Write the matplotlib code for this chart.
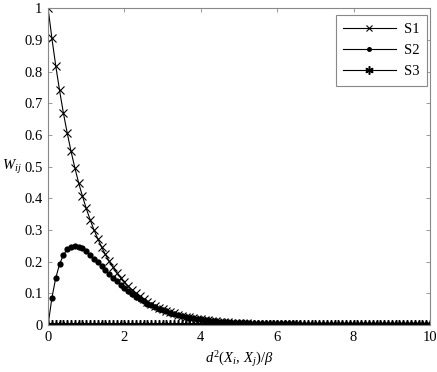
import numpy as np
import matplotlib
matplotlib.use("Agg")
import matplotlib.pyplot as plt

plt.rcParams['font.family'] = ['Liberation Serif', 'DejaVu Serif']
plt.rcParams['mathtext.fontset'] = 'custom'
plt.rcParams['mathtext.rm'] = 'Liberation Serif'
plt.rcParams['mathtext.it'] = 'Liberation Serif:italic'

# x positions: 0 to 10 step 0.1 (101 samples)
x_start, x_stop, n_points = 0.0, 10.0, 101

s1 = [1.000, 0.905, 0.819, 0.741, 0.670, 0.607, 0.549, 0.497, 0.449, 0.407,
      0.368, 0.333, 0.301, 0.273, 0.247, 0.223, 0.202, 0.183, 0.165, 0.150,
      0.135, 0.122, 0.111, 0.100, 0.091, 0.082, 0.074, 0.067, 0.061, 0.055,
      0.050, 0.045, 0.041, 0.037, 0.033, 0.030, 0.027, 0.025, 0.022, 0.020,
      0.018, 0.017, 0.015, 0.014, 0.012, 0.011, 0.010, 0.009, 0.008, 0.007,
      0.007, 0.006, 0.006, 0.005, 0.005, 0.004, 0.004, 0.003, 0.003, 0.003,
      0.002, 0.002, 0.002, 0.002, 0.002, 0.002, 0.001, 0.001, 0.001, 0.001,
      0.001, 0.001, 0.001, 0.001, 0.001, 0.001, 0.000, 0.000, 0.000, 0.000,
      0.000, 0.000, 0.000, 0.000, 0.000, 0.000, 0.000, 0.000, 0.000, 0.000,
      0.000, 0.000, 0.000, 0.000, 0.000, 0.000, 0.000, 0.000, 0.000, 0.000,
      0.000]

s2 = [0.000, 0.086, 0.148, 0.192, 0.221, 0.239, 0.248, 0.250, 0.247, 0.242,
      0.233, 0.222, 0.210, 0.199, 0.186, 0.173, 0.161, 0.150, 0.138, 0.128,
      0.117, 0.107, 0.099, 0.090, 0.083, 0.075, 0.068, 0.062, 0.057, 0.052,
      0.047, 0.043, 0.039, 0.035, 0.032, 0.029, 0.027, 0.024, 0.022, 0.020,
      0.018, 0.016, 0.015, 0.013, 0.012, 0.011, 0.010, 0.009, 0.008, 0.007,
      0.007, 0.006, 0.006, 0.005, 0.005, 0.004, 0.004, 0.003, 0.003, 0.003,
      0.002, 0.002, 0.002, 0.002, 0.002, 0.002, 0.001, 0.001, 0.001, 0.001,
      0.001, 0.001, 0.001, 0.001, 0.001, 0.001, 0.000, 0.000, 0.000, 0.000,
      0.000, 0.000, 0.000, 0.000, 0.000, 0.000, 0.000, 0.000, 0.000, 0.000,
      0.000, 0.000, 0.000, 0.000, 0.000, 0.000, 0.000, 0.000, 0.000, 0.000,
      0.000]

s3 = [0.0] * 101

series_labels = ['S1', 'S2', 'S3']
x_ticks = [0, 2, 4, 6, 8, 10]
y_ticks = [0, 0.1, 0.2, 0.3, 0.4, 0.5, 0.6, 0.7, 0.8, 0.9, 1]
y_tick_labels = ['0', '0.1', '0.2', '0.3', '0.4', '0.5', '0.6', '0.7', '0.8', '0.9', '1']

x = np.linspace(x_start, x_stop, n_points)

fig = plt.figure(figsize=(4.37, 3.72), dpi=100)
ax = fig.add_axes([0.110, 0.126, 0.874, 0.852])

ax.plot(x, s1, color='black', lw=0.8, marker='x', ms=5.5, mew=0.8, label=series_labels[0])
ax.plot(x, s2, color='black', lw=0.8, marker='o', ms=4.5, mew=0, label=series_labels[1])
ax.plot(x, s3, color='black', lw=0.8, marker=(6, 2, 0), ms=7.5, mew=1.1, label=series_labels[2])

ax.set_xlim(0, 10)
ax.set_ylim(0, 1)
ax.set_xticks(x_ticks)
ax.set_xticklabels([str(t) for t in x_ticks])
ax.set_yticks(y_ticks)
ax.set_yticklabels(y_tick_labels)
ax.tick_params(direction='in', top=True, right=True, length=3, width=0.6,
               color='#888888', labelsize=10.5, pad=4)
for sp in ax.spines.values():
    sp.set_color('#888888')
    sp.set_linewidth(0.8)

ax.set_xlabel(r'$d^2(X_i,\,X_j)/\beta$', fontsize=10.5, labelpad=4)
ax.set_ylabel(r'$W_{ij}$', fontsize=10.5, rotation=0, labelpad=9, va='center')

leg = ax.legend(loc='upper right', fontsize=10.5, frameon=True, fancybox=False,
                edgecolor='#888888', framealpha=1, borderpad=0.5, numpoints=1,
                handlelength=3.6, handletextpad=0.6, labelspacing=0.55,
                bbox_to_anchor=(0.993, 0.977), borderaxespad=0, markerscale=0.8)
leg.get_frame().set_linewidth(0.8)

fig.savefig('out.png', dpi=100)
